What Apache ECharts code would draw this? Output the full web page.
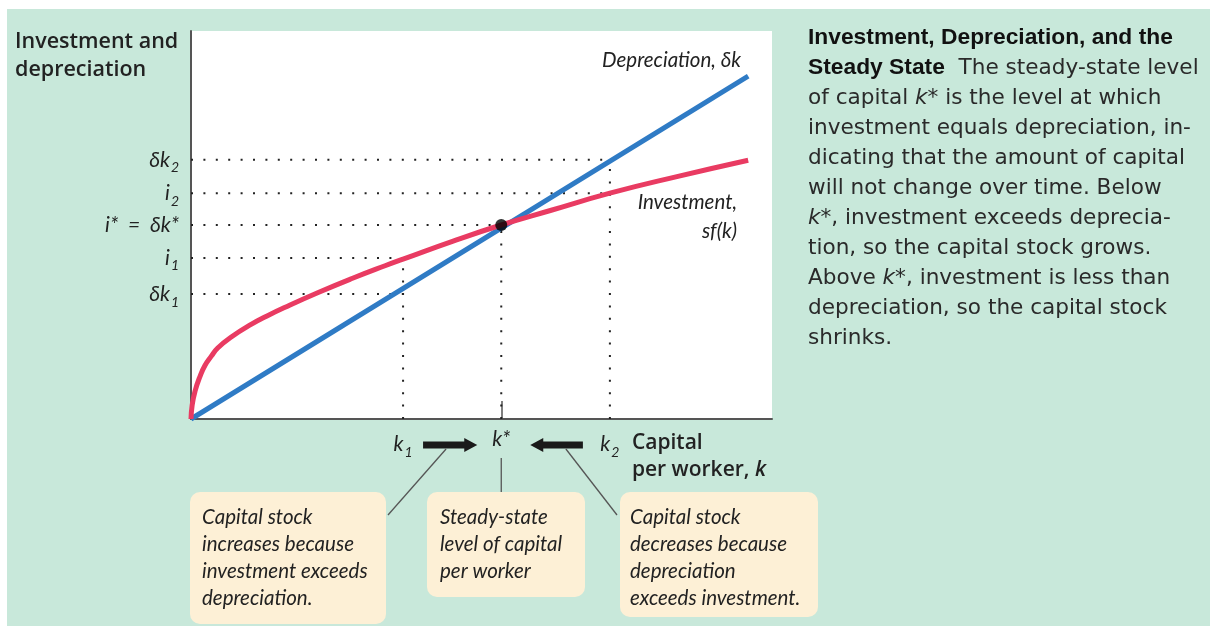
<!DOCTYPE html>
<html>
<head>
<meta charset="utf-8">
<script src="https://cdn.jsdelivr.net/npm/echarts@6/dist/echarts.min.js"></script>
<style>
  html, body { margin: 0; padding: 0; background: #fff; }
  #panel { position: absolute; left: 7px; top: 9px; width: 1203px; height: 617px; background: #c8e8da; }
  #main { position: absolute; left: 0; top: 0; width: 1210px; height: 626px; }
</style>
</head>
<body>
<div id="panel"></div>
<div id="main"></div>
<script>
// capital per worker (x axis 0..10) and investment / depreciation levels (y axis 0..10)
const kLevels = [3.65, 5.34, 7.21]            // k1, k*, k2
const kTickText = ['{i|k}{s|1}', '{i|k*}', '{i|k}{s|2}']
const yLevels = [3.22, 4.15, 5.0, 5.82, 6.68]  // δk1, i1, i* = δk*, i2, δk2
const yTickText = ['{i|δk}{s|1}', '{i|i}{s|1}', '{i|i*  =  δk*}', '{i|i}{s|2}', '{i|δk}{s|2}']

// depreciation δk (straight line)
const deprK = [0, 9.59]
const deprY = [0, 8.84]

// investment sf(k)
const invK = [0, 0.02, 0.07, 0.15, 0.24, 0.35, 0.46, 0.7, 1.05, 1.3, 1.62, 2.19, 2.77, 3.34, 3.65, 4.5, 5.34, 6.2, 7.21, 8.4, 9.59]
const invY = [0, 0.36, 0.72, 1.08, 1.38, 1.62, 1.83, 2.12, 2.45, 2.65, 2.88, 3.26, 3.62, 3.95, 4.12, 4.58, 5.0, 5.38, 5.82, 6.26, 6.67]

// dotted guides: horizontal one ends at which k, vertical one rises to which level
const hGuideEnd = [0, 0, 1, 2, 2]   // index into kLevels
const vGuideTop = [1, 2, 4]         // index into yLevels

const BLUE = '#2f7bc5'
const RED = '#e93b62'
const INK = '#222'
const CREAM = '#fdf0d6'
const hand = 'Lato, sans-serif'
const sans = '"Open Sans", sans-serif'

let myChart = echarts.init(document.getElementById('main'))

const dotted = { color: INK, width: 2, type: [2, 10.4], cap: 'butt' }
const guideSeries = []
yLevels.forEach((y, i) => {
  guideSeries.push({
    type: 'line', silent: true, symbol: 'none', z: 1,
    lineStyle: dotted,
    data: [[0, y], [kLevels[hGuideEnd[i]], y]],
  })
})
kLevels.forEach((k, i) => {
  guideSeries.push({
    type: 'line', silent: true, symbol: 'none', z: 1,
    lineStyle: dotted,
    data: [[k, 0], [k, yLevels[vGuideTop[i]]]],
  })
})

const labelRich = {
  i: { fontFamily: hand, fontStyle: 'italic', fontSize: 21, color: INK },
  s: { fontFamily: hand, fontStyle: 'italic', fontSize: 14, color: INK, padding: [16, 0, 0, 1] },
}

myChart.setOption({
  animation: false,
  grid: {
    left: 191, top: 31, width: 581, height: 388,
    show: true, backgroundColor: '#fff', borderWidth: 0,
  },
  xAxis: {
    type: 'value', min: 0, max: 10,
    splitLine: { show: false },
    axisLine: { show: true, lineStyle: { color: '#555', width: 2 } },
    axisTick: { show: true, inside: true, length: 18, customValues: [kLevels[1]], lineStyle: { color: '#555', width: 1.5 } },
    axisLabel: {
      customValues: kLevels,
      margin: 10,
      formatter: (v) => kTickText[kLevels.indexOf(v)] || '',
      rich: labelRich,
    },
  },
  yAxis: {
    type: 'value', min: 0, max: 10,
    splitLine: { show: false },
    axisLine: { show: true, lineStyle: { color: '#555', width: 2 } },
    axisTick: { show: false },
    axisLabel: {
      customValues: yLevels,
      margin: 12,
      formatter: (v) => yTickText[yLevels.indexOf(v)] || '',
      rich: labelRich,
    },
  },
  series: [
    ...guideSeries,
    {
      name: 'Depreciation', type: 'line', symbol: 'none', z: 3,
      lineStyle: { color: BLUE, width: 5 },
      data: deprK.map((k, i) => [k, deprY[i]]),
    },
    {
      name: 'Investment', type: 'line', symbol: 'none', z: 4,
      smooth: 0.5,
      lineStyle: { color: RED, width: 5 },
      data: invK.map((k, i) => [k, invY[i]]),
    },
    {
      name: 'Steady state', type: 'scatter', z: 5,
      symbolSize: 12, itemStyle: { color: '#000' },
      data: [[kLevels[1], yLevels[2]]],
    },
  ],
})

// annotations placed from the axes
const px = (k, y) => myChart.convertToPixel({ gridIndex: 0 }, [k, y])
const p1 = px(kLevels[0], 0), pS = px(kLevels[1], 0), p2 = px(kLevels[2], 0)
const ay = p1[1] + 26

function arrow(xTail, xTip) {
  const d = xTip > xTail ? 1 : -1
  const xh = xTip - d * 13
  return {
    type: 'polygon',
    shape: { points: [[xTail, ay - 3.5], [xh, ay - 3.5], [xh, ay - 7], [xTip, ay], [xh, ay + 7], [xh, ay + 3.5], [xTail, ay + 3.5]] },
    style: { fill: '#1a1a1a' },
  }
}

function txt(x, y, text, font, extra) {
  return { type: 'text', style: Object.assign({ x, y, text, font, fill: INK, textVerticalAlign: 'middle' }, extra || {}) }
}

function box(x, y, w, h) {
  return { type: 'rect', shape: { x, y, width: w, height: h, r: 10 }, style: { fill: CREAM } }
}

const boxFont = 'italic 20.5px ' + hand
const boxLine = 27
const para = '21.6px "DejaVu Sans", sans-serif'

myChart.setOption({
  graphic: [
    // axis titles
    txt(15, 56, 'Investment and\ndepreciation', '600 21.5px ' + sans, { lineHeight: 28 }),
    txt(p2[0] + 22, ay + 12, 'Capital\n{t|per worker, }{k|k}', '600 21px ' + sans, {
      lineHeight: 27,
      rich: { t: { font: '600 21px ' + sans, fill: INK }, k: { font: 'italic 600 21px ' + sans, fill: INK } },
    }),
    // curve labels
    txt(741, 60, 'Depreciation, δk', 'italic 20.5px ' + hand, { textAlign: 'right' }),
    txt(737, 217, 'Investment,\nsf(k)', 'italic 20.5px ' + hand, { textAlign: 'right', lineHeight: 29 }),
    // arrows toward k*
    arrow(p1[0] + 20, pS[0] - 24),
    arrow(p2[0] - 27, pS[0] + 29),
    // connectors
    { type: 'line', shape: { x1: p1[0] + 43, y1: ay + 4, x2: 388, y2: 515 }, style: { stroke: '#555', lineWidth: 1.3 } },
    { type: 'line', shape: { x1: pS[0], y1: ay + 13, x2: pS[0], y2: 492 }, style: { stroke: '#555', lineWidth: 1.3 } },
    { type: 'line', shape: { x1: p2[0] - 44, y1: ay + 4, x2: 617, y2: 515 }, style: { stroke: '#555', lineWidth: 1.3 } },
    // boxes
    box(190, 492, 196, 132),
    box(427, 492, 158, 105),
    box(620, 492, 198, 125),
    txt(202, 517 + boxLine * 1.5, 'Capital stock\nincreases because\ninvestment exceeds\ndepreciation.', boxFont, { lineHeight: boxLine }),
    txt(440, 517 + boxLine, 'Steady-state\nlevel of capital\nper worker', boxFont, { lineHeight: boxLine }),
    txt(630, 517 + boxLine * 1.5, 'Capital stock\ndecreases because\ndepreciation\nexceeds investment.', boxFont, { lineHeight: boxLine }),
    // caption
    {
      type: 'text',
      style: {
        x: 808, y: 23, fill: '#2a2a2a', font: para, lineHeight: 30,
        text: [
          '{b|Investment, Depreciation, and the}',
          '{b|Steady State}  The steady-state level',
          'of capital {k|k*} is the level at which',
          'investment equals depreciation, in-',
          'dicating that the amount of capital',
          'will not change over time. Below',
          '{k|k*}, investment exceeds deprecia-',
          'tion, so the capital stock grows.',
          'Above {k|k*}, investment is less than',
          'depreciation, so the capital stock',
          'shrinks.',
        ].join('\n'),
        rich: {
          b: { font: 'bold 22.8px "Liberation Sans", sans-serif', fill: '#111' },
          k: { font: 'italic 21.6px "DejaVu Sans", sans-serif', fill: '#2a2a2a' },
        },
      },
    },
  ],
})
</script>
</body>
</html>
